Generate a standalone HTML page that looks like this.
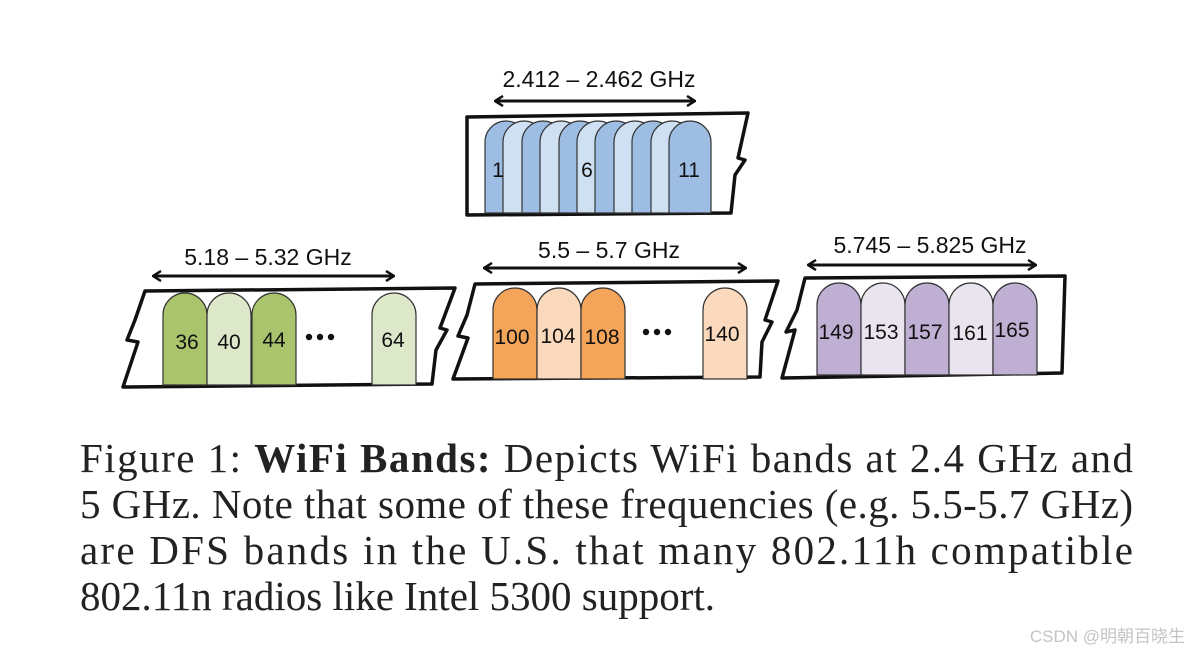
<!DOCTYPE html>
<html><head><meta charset="utf-8"><style>
html,body{margin:0;padding:0;background:#fff;}
svg{display:block}
.lbl{font-family:"Liberation Sans",sans-serif;font-size:23px;fill:#111;}
.num{font-family:"Liberation Sans",sans-serif;font-size:21px;fill:#111;text-anchor:middle;}
.cap{font-family:"Liberation Serif",serif;font-size:41px;fill:#222;}
</style></head><body>
<svg width="1193" height="656" viewBox="0 0 1193 656" xmlns="http://www.w3.org/2000/svg">
<defs>
<marker id="ah" markerWidth="10" markerHeight="12" refX="9" refY="6" orient="auto-start-reverse" markerUnits="userSpaceOnUse">
<path d="M1,1 L9,6 L1,11" fill="none" stroke="#111" stroke-width="2.5"/>
</marker>
</defs>

<!-- Top box -->
<path d="M467,117 L748,113 L738,158 L745,160 L735,175 L731,213 L467,215 Z" fill="#fff" stroke="#111" stroke-width="3.5" stroke-linejoin="round"/>
<g stroke="#333" stroke-width="1.2">
<path d="M485,213 V142 A21,21 0 0 1 527,142 V213 Z" fill="#9dbde3"/>
<path d="M503,213 V142 A21,21 0 0 1 545,142 V213 Z" fill="#d0e0f3"/>
<path d="M522,213 V142 A21,21 0 0 1 564,142 V213 Z" fill="#9dbde3"/>
<path d="M540,213 V142 A21,21 0 0 1 582,142 V213 Z" fill="#d0e0f3"/>
<path d="M559,213 V142 A21,21 0 0 1 601,142 V213 Z" fill="#9dbde3"/>
<path d="M577,213 V142 A21,21 0 0 1 619,142 V213 Z" fill="#d0e0f3"/>
<path d="M595,213 V142 A21,21 0 0 1 637,142 V213 Z" fill="#9dbde3"/>
<path d="M614,213 V142 A21,21 0 0 1 656,142 V213 Z" fill="#d0e0f3"/>
<path d="M632,213 V142 A21,21 0 0 1 674,142 V213 Z" fill="#9dbde3"/>
<path d="M651,213 V142 A21,21 0 0 1 693,142 V213 Z" fill="#d0e0f3"/>
<path d="M669,213 V142 A21,21 0 0 1 711,142 V213 Z" fill="#9dbde3"/>
</g>
<text class="num" x="498" y="177">1</text>
<text class="num" x="587" y="177">6</text>
<text class="num" x="689" y="177">11</text>
<line x1="495" y1="101" x2="695" y2="101" stroke="#111" stroke-width="3" marker-start="url(#ah)" marker-end="url(#ah)"/>
<text class="lbl" x="599" y="87" text-anchor="middle">2.412 – 2.462 GHz</text>

<!-- Green box -->
<path d="M145,291 L455,288 L440,328 L447,330 L436,350 L432,384 L123,387 L138,342 L127,340 L135,320 Z" fill="#fff" stroke="#111" stroke-width="3.5" stroke-linejoin="round"/>
<g stroke="#333" stroke-width="1.2">
<path d="M163,385 V315 A22,22 0 0 1 207,315 V385 Z" fill="#a9c46c"/>
<path d="M207,385 V315 A22,22 0 0 1 251,315 V385 Z" fill="#dde8cb"/>
<path d="M252,385 V315 A22,22 0 0 1 296,315 V385 Z" fill="#a9c46c"/>
<path d="M372,385 V315 A22,22 0 0 1 416,315 V385 Z" fill="#dde8cb"/>
</g>
<text class="num" x="187" y="349">36</text>
<text class="num" x="229" y="349">40</text>
<text class="num" x="274" y="347">44</text>
<text class="num" x="393" y="347">64</text>
<g fill="#111"><circle cx="309" cy="337" r="3.2"/><circle cx="320" cy="337" r="3.2"/><circle cx="331" cy="337" r="3.2"/></g>
<line x1="153" y1="276" x2="394" y2="276" stroke="#111" stroke-width="3" marker-start="url(#ah)" marker-end="url(#ah)"/>
<text class="lbl" x="268" y="265" text-anchor="middle">5.18 – 5.32 GHz</text>

<!-- Orange box -->
<path d="M475,284 L778,281 L765,320 L772,322 L762,342 L760,377 L453,379 L468,338 L458,336 L467,315 Z" fill="#fff" stroke="#111" stroke-width="3.5" stroke-linejoin="round"/>
<g stroke="#333" stroke-width="1.2">
<path d="M493,379 V310 A22,22 0 0 1 537,310 V379 Z" fill="#f4a55a"/>
<path d="M537,379 V310 A22,22 0 0 1 581,310 V379 Z" fill="#fbd9bd"/>
<path d="M581,379 V310 A22,22 0 0 1 625,310 V379 Z" fill="#f4a55a"/>
<path d="M703,379 V310 A22,22 0 0 1 747,310 V379 Z" fill="#fbd9bd"/>
</g>
<text class="num" x="512" y="344">100</text>
<text class="num" x="558" y="343">104</text>
<text class="num" x="602" y="344">108</text>
<text class="num" x="722" y="341">140</text>
<g fill="#111"><circle cx="646" cy="332" r="3.2"/><circle cx="657" cy="332" r="3.2"/><circle cx="668" cy="332" r="3.2"/></g>
<line x1="484" y1="268" x2="746" y2="268" stroke="#111" stroke-width="3" marker-start="url(#ah)" marker-end="url(#ah)"/>
<text class="lbl" x="609" y="258" text-anchor="middle">5.5 – 5.7 GHz</text>

<!-- Purple box -->
<path d="M805,278 L1065,276 L1062,373 L782,378 L795,330 L786,332 L797,310 Z" fill="#fff" stroke="#111" stroke-width="3.5" stroke-linejoin="round"/>
<g stroke="#333" stroke-width="1.2">
<path d="M817,375 V305 A22,22 0 0 1 861,305 V375 Z" fill="#bfafd3"/>
<path d="M861,375 V305 A22,22 0 0 1 905,305 V375 Z" fill="#e9e4ee"/>
<path d="M905,375 V305 A22,22 0 0 1 949,305 V375 Z" fill="#bfafd3"/>
<path d="M949,375 V305 A22,22 0 0 1 993,305 V375 Z" fill="#e9e4ee"/>
<path d="M993,375 V305 A22,22 0 0 1 1037,305 V375 Z" fill="#bfafd3"/>
</g>
<text class="num" x="836" y="339">149</text>
<text class="num" x="881" y="339">153</text>
<text class="num" x="925" y="339">157</text>
<text class="num" x="970" y="340">161</text>
<text class="num" x="1012" y="337">165</text>
<line x1="808" y1="265" x2="1036" y2="265" stroke="#111" stroke-width="3" marker-start="url(#ah)" marker-end="url(#ah)"/>
<text class="lbl" x="930" y="253" text-anchor="middle">5.745 – 5.825 GHz</text>

<!-- Caption -->
<text class="cap" x="80" y="472" textLength="1053" lengthAdjust="spacing">Figure 1: <tspan font-weight="bold">WiFi Bands:</tspan> Depicts WiFi bands at 2.4 GHz and</text>
<text class="cap" x="80" y="518" textLength="1053" lengthAdjust="spacing">5 GHz. Note that some of these frequencies (e.g. 5.5-5.7 GHz)</text>
<text class="cap" x="80" y="564" textLength="1053" lengthAdjust="spacing">are DFS bands in the U.S. that many 802.11h compatible</text>
<text class="cap" x="80" y="610">802.11n radios like Intel 5300 support.</text>

<text x="1185" y="642" text-anchor="end" font-family="Liberation Sans, 'Noto Sans CJK SC', sans-serif" font-size="17" fill="#c4c4c4">CSDN @明朝百晓生</text>
</svg>
</body></html>
